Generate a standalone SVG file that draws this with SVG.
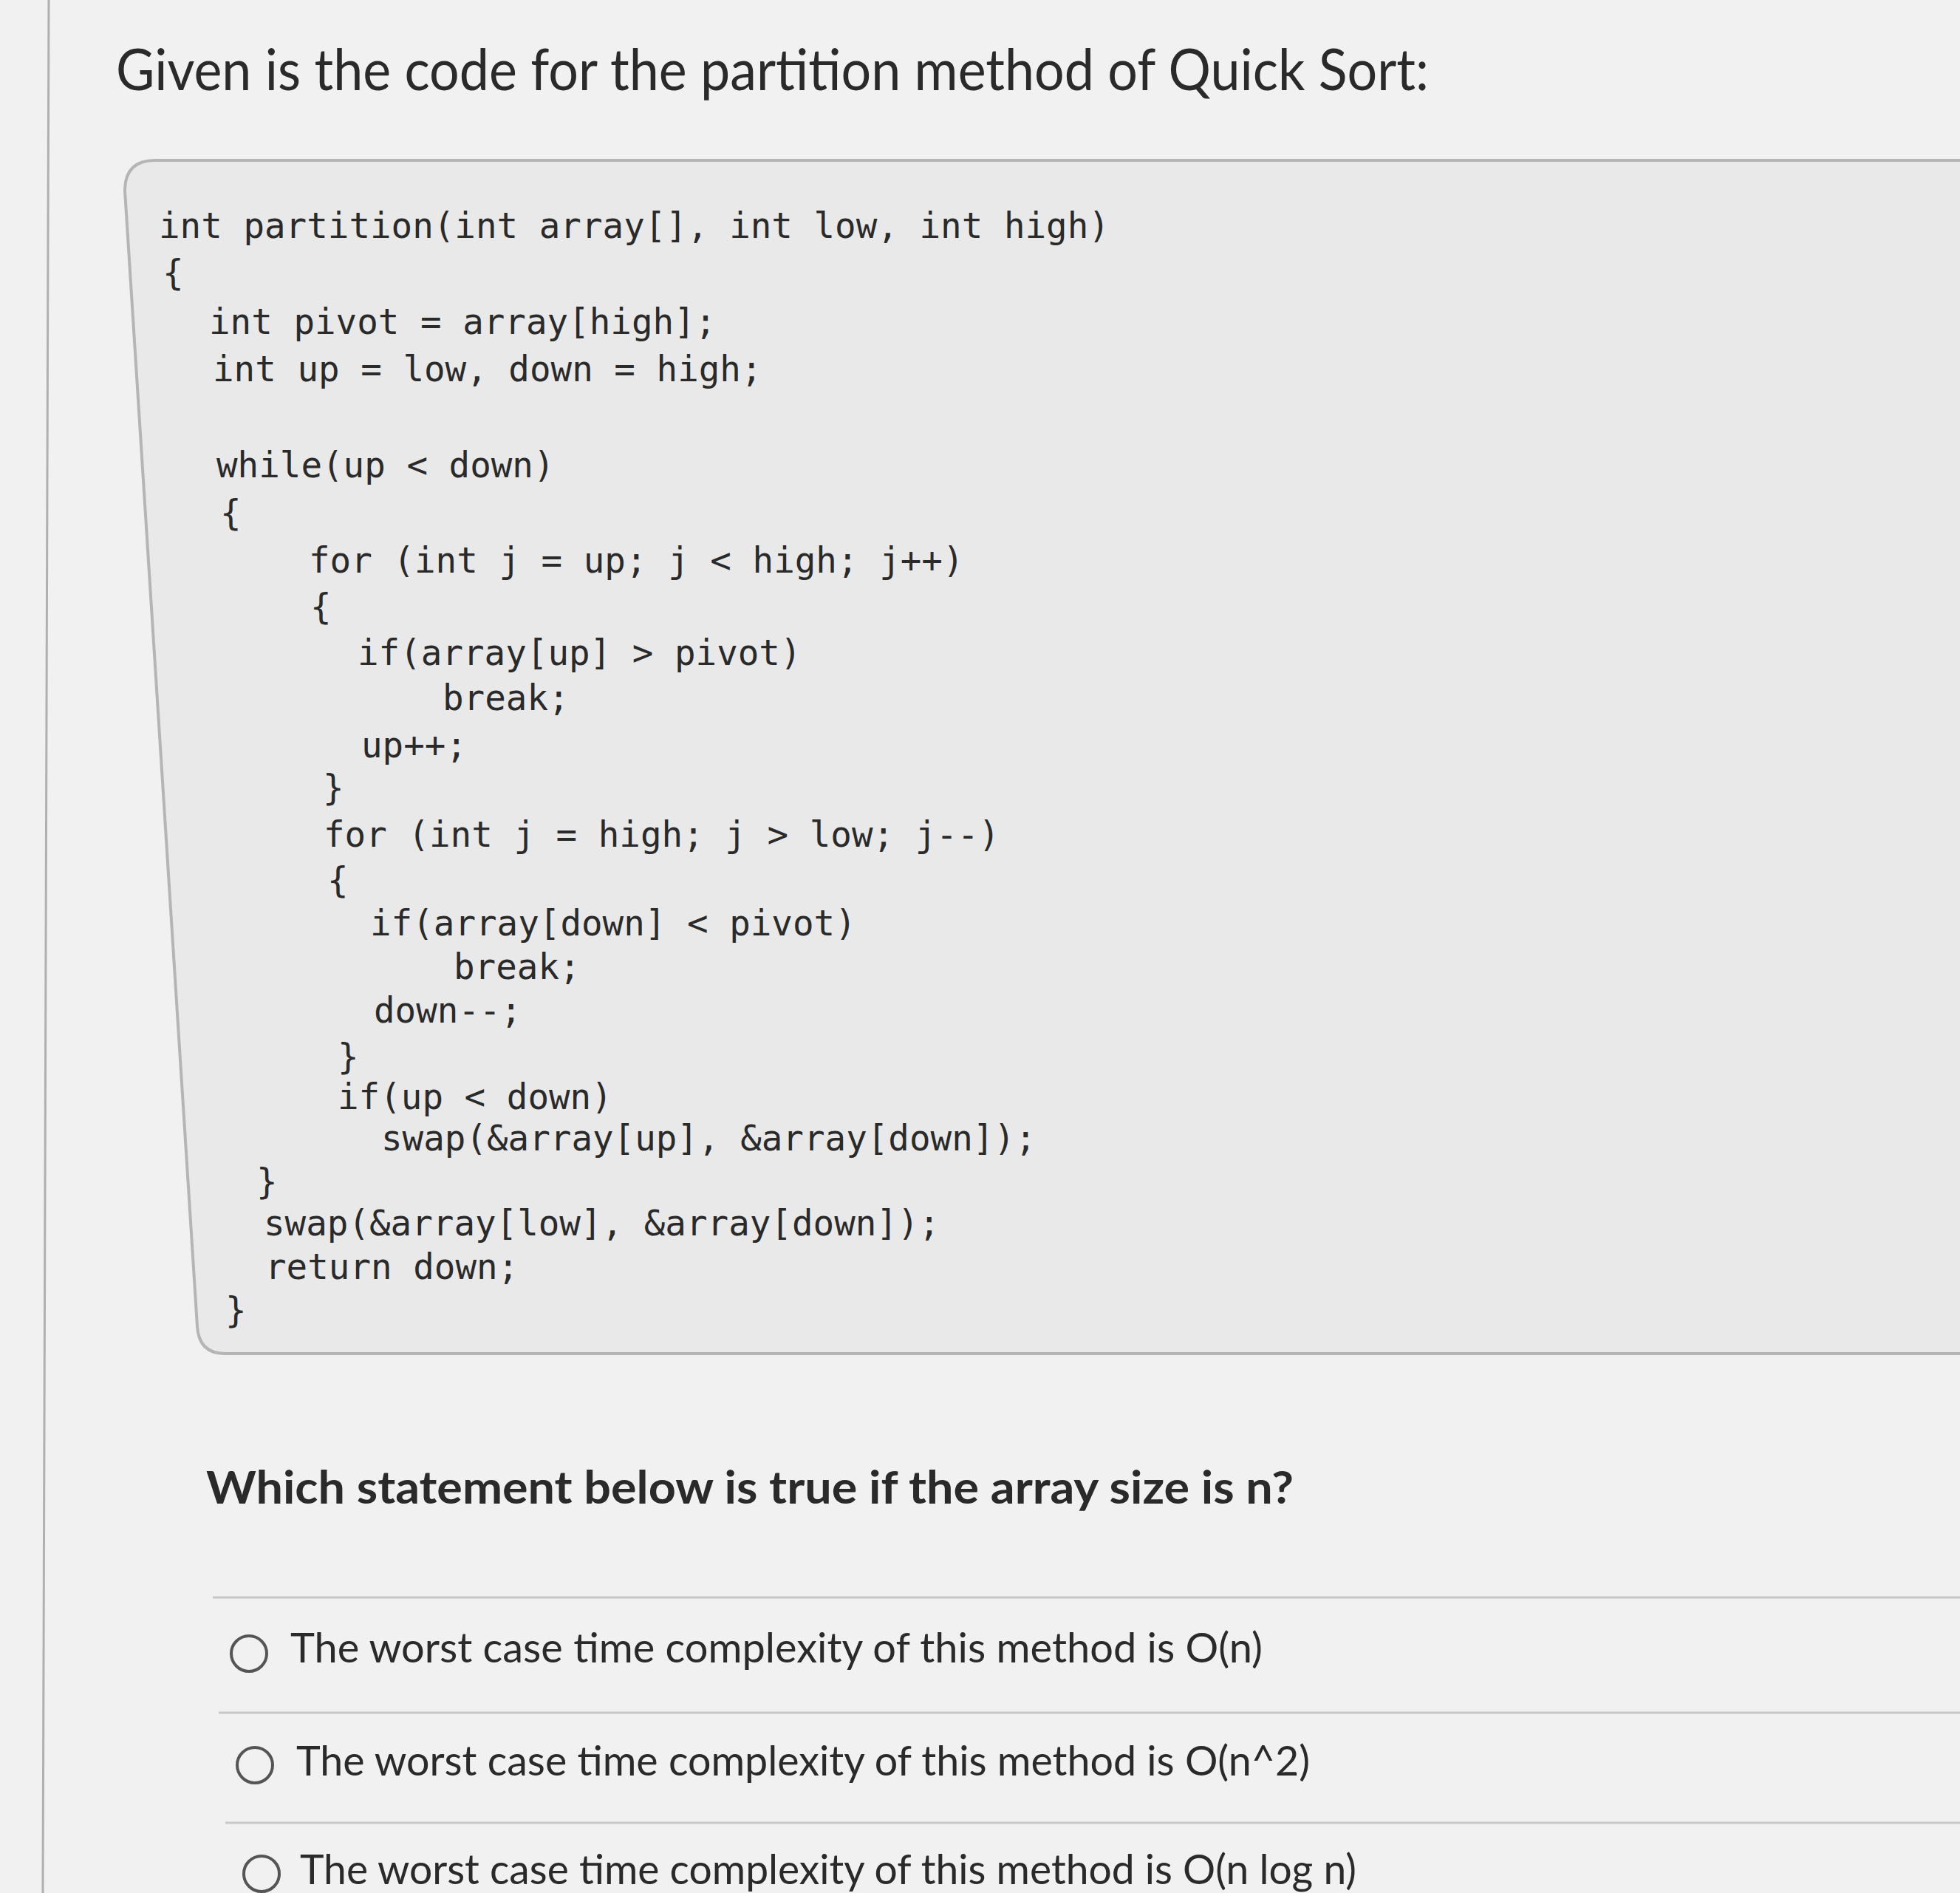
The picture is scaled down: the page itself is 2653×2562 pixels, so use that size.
<svg xmlns="http://www.w3.org/2000/svg" width="2653" height="2562" viewBox="0 0 2653 2562">
<style>
.code{font-family:"DejaVu Sans Mono","Liberation Mono",monospace;font-size:47.5px;fill:#2a2a2a}
.q{font-family:Lato,"Open Sans",sans-serif;fill:#2a2a2a}
.sep{stroke:#c8c8c8;stroke-width:3}
.radio{fill:none;stroke:#555;stroke-width:4}
</style>
<rect width="2653" height="2562" fill="#f1f1f1"/>
<line x1="66" y1="0" x2="58" y2="2562" stroke="#b0b0b0" stroke-width="3"/>
<text class="q" x="157" y="122" font-size="78" textLength="1777" lengthAdjust="spacingAndGlyphs">Given is the code for the partition method of Quick Sort:</text>
<g id="codebox">
<path d="M2653,217 L210,217 Q169,217 169,258 L267,1795 Q269,1832 305,1832 L2653,1832" fill="#e9e9e9" stroke="#b5b5b5" stroke-width="4"/>
<g class="code">
<text x="215" y="322">int partition(int array[], int low, int high)</text>
<text x="220" y="386">{</text>
<text x="283" y="452">int pivot = array[high];</text>
<text x="288" y="516">int up = low, down = high;</text>
<text x="293" y="646">while(up &lt; down)</text>
<text x="298" y="711">{</text>
<text x="418" y="775">for (int j = up; j &lt; high; j++)</text>
<text x="420" y="838">{</text>
<text x="484" y="900">if(array[up] &gt; pivot)</text>
<text x="599" y="961">break;</text>
<text x="489" y="1025">up++;</text>
<text x="437" y="1083">}</text>
<text x="438" y="1146">for (int j = high; j &gt; low; j--)</text>
<text x="443" y="1208">{</text>
<text x="501" y="1266">if(array[down] &lt; pivot)</text>
<text x="614" y="1325">break;</text>
<text x="506" y="1384">down--;</text>
<text x="457" y="1447">}</text>
<text x="457" y="1501">if(up &lt; down)</text>
<text x="516" y="1557">swap(&amp;array[up], &amp;array[down]);</text>
<text x="347" y="1616">}</text>
<text x="357" y="1672">swap(&amp;array[low], &amp;array[down]);</text>
<text x="359" y="1731">return down;</text>
<text x="305" y="1790">}</text>
</g>
</g>
<text class="q" x="279" y="2035" font-size="62" font-weight="bold" textLength="1472" lengthAdjust="spacingAndGlyphs">Which statement below is true if the array size is n?</text>
<line class="sep" x1="288" y1="2162" x2="2653" y2="2162"/>
<line class="sep" x1="296" y1="2318" x2="2653" y2="2318"/>
<line class="sep" x1="305" y1="2467" x2="2653" y2="2467"/>
<g id="opt1"><circle class="radio" cx="337" cy="2238" r="24"/><text class="q" x="393" y="2250" font-size="57" textLength="1316" lengthAdjust="spacingAndGlyphs">The worst case time complexity of this method is O(n)</text></g>
<g id="opt2"><circle class="radio" cx="345" cy="2389" r="24"/><text class="q" x="401" y="2403" font-size="57" textLength="1372" lengthAdjust="spacingAndGlyphs">The worst case time complexity of this method is O(n^2)</text></g>
<g id="opt3"><circle class="radio" cx="354" cy="2536" r="24"/><text class="q" x="406" y="2550" font-size="57" textLength="1430" lengthAdjust="spacingAndGlyphs">The worst case time complexity of this method is O(n log n)</text></g>
</svg>
